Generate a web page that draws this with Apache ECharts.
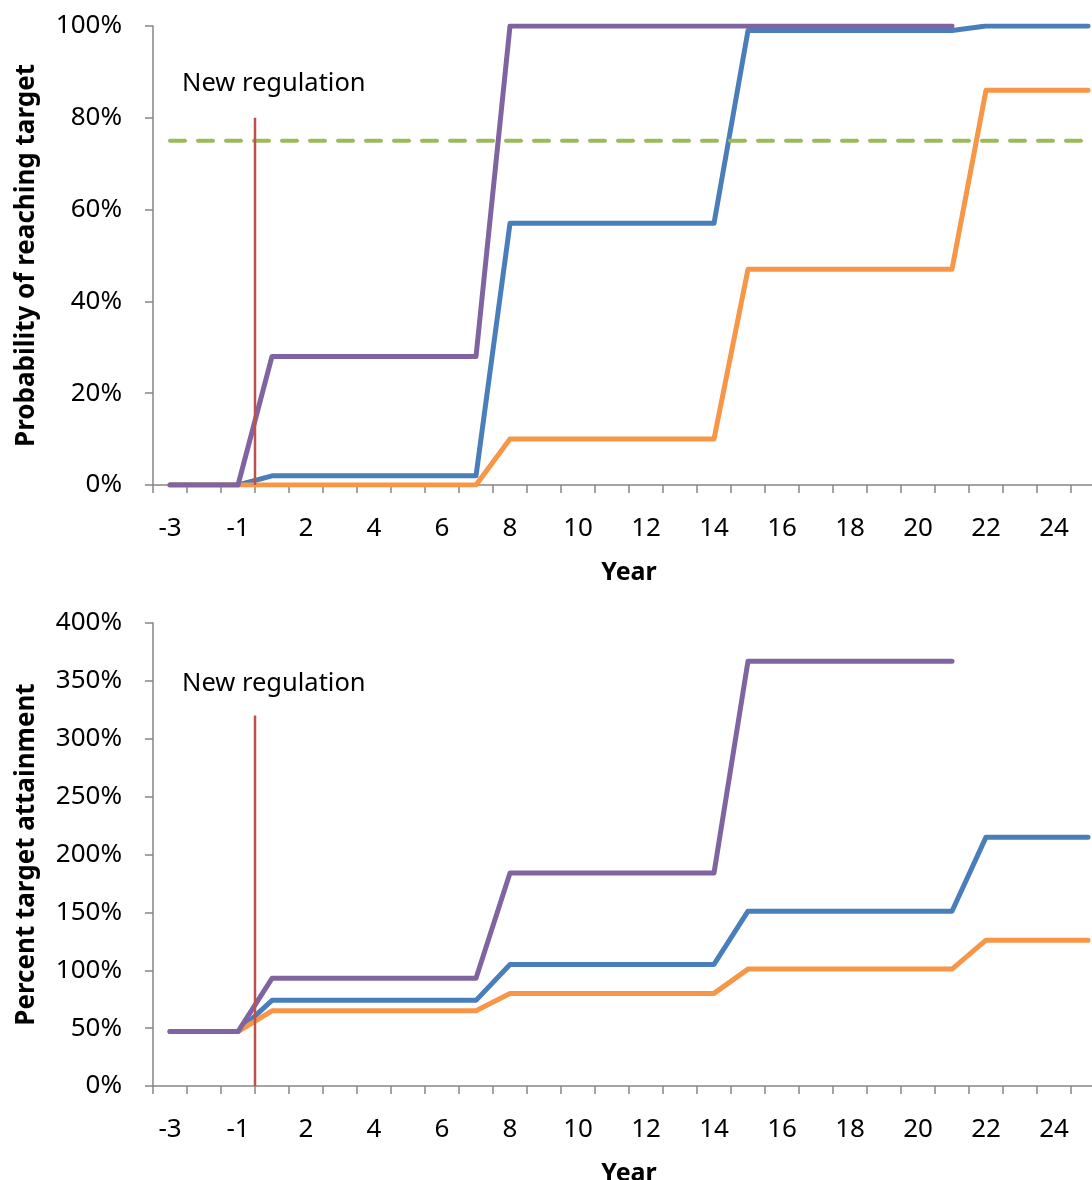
<!DOCTYPE html>
<html>
<head>
<meta charset="utf-8">
<title>Probability and percent target attainment</title>
<script src="https://cdn.jsdelivr.net/npm/echarts@6/dist/echarts.min.js"></script>
<style>
  html, body { margin: 0; padding: 0; background: #fff; }
  #main { width: 1092px; height: 1180px; }
</style>
</head>
<body>
<div id="main"></div>
<script>
// years on the x axis (no year 0)
var years = ['-3', '-2', '-1', '1', '2', '3', '4', '5', '6', '7', '8', '9', '10', '11',
  '12', '13', '14', '15', '16', '17', '18', '19', '20', '21', '22', '23', '24', '25'];

// top panel: probability of reaching target (%)
var probPurple = [0, 0, 0, 28, 28, 28, 28, 28, 28, 28, 100, 100, 100, 100, 100, 100, 100,
  100, 100, 100, 100, 100, 100, 100, null, null, null, null];
var probBlue = [0, 0, 0, 2, 2, 2, 2, 2, 2, 2, 57, 57, 57, 57, 57, 57, 57,
  99, 99, 99, 99, 99, 99, 99, 100, 100, 100, 100];
var probOrange = [0, 0, 0, 0, 0, 0, 0, 0, 0, 0, 10, 10, 10, 10, 10, 10, 10,
  47, 47, 47, 47, 47, 47, 47, 86, 86, 86, 86];
var probTarget = [75, 75, 75, 75, 75, 75, 75, 75, 75, 75, 75, 75, 75, 75, 75, 75, 75,
  75, 75, 75, 75, 75, 75, 75, 75, 75, 75, 75];

// bottom panel: percent target attainment (%)
var attPurple = [47, 47, 47, 93, 93, 93, 93, 93, 93, 93, 184, 184, 184, 184, 184, 184, 184,
  367, 367, 367, 367, 367, 367, 367, null, null, null, null];
var attBlue = [47, 47, 47, 74, 74, 74, 74, 74, 74, 74, 105, 105, 105, 105, 105, 105, 105,
  151, 151, 151, 151, 151, 151, 151, 215, 215, 215, 215];
var attOrange = [47, 47, 47, 65, 65, 65, 65, 65, 65, 65, 80, 80, 80, 80, 80, 80, 80,
  101, 101, 101, 101, 101, 101, 101, 126, 126, 126, 126];

// new regulation marker: category boundary (between -1 and 1) and line tops
var regulationAt = 3;
var regTopProb = 80;
var regTopAtt = 320;

var myChart = echarts.init(document.getElementById('main'));

var FONT = '"Noto Sans", "Open Sans", sans-serif';
var AXIS_COLOR = '#868686';

function catAxis(grid) {
    return {
        type: 'category',
        gridIndex: grid,
        data: years,
        boundaryGap: true,
        name: 'Year',
        nameLocation: 'middle',
        nameGap: 75,
        nameTextStyle: { fontFamily: FONT, fontSize: 25, fontWeight: 'bold', color: '#000' },
        axisLine: { lineStyle: { color: AXIS_COLOR, width: 1.5 } },
        axisTick: { show: true, interval: 0, length: 8, lineStyle: { color: AXIS_COLOR, width: 1.5 } },
        axisLabel: { interval: 1, margin: 31, fontFamily: FONT, fontSize: 26, color: '#000' },
        splitLine: { show: false }
    };
}

function hiddenAxis(grid) {
    return { type: 'value', gridIndex: grid, min: 0, max: years.length, show: false };
}

function valAxis(grid, max, interval, name) {
    return {
        type: 'value',
        gridIndex: grid,
        min: 0,
        max: max,
        interval: interval,
        name: name,
        nameLocation: 'middle',
        nameGap: 113,
        nameTextStyle: { fontFamily: FONT, fontSize: 26, fontWeight: 'bold', color: '#000' },
        axisLine: { show: true, lineStyle: { color: AXIS_COLOR, width: 1.5 } },
        axisTick: { show: true, length: 8, lineStyle: { color: AXIS_COLOR, width: 1.5 } },
        axisLabel: { margin: 31, fontFamily: FONT, fontSize: 26, color: '#000', formatter: '{value}%' },
        splitLine: { show: false }
    };
}

function lineSeries(data, color, axisIdx, extra) {
    var s = {
        type: 'line',
        xAxisIndex: axisIdx,
        yAxisIndex: axisIdx,
        data: data,
        symbol: 'none',
        smooth: false,
        connectNulls: false,
        animation: false,
        lineStyle: { color: color, width: 5, cap: 'round', join: 'round' }
    };
    if (extra) {
        for (var k in extra) s[k] = extra[k];
    }
    return s;
}

function regLine(axisIdx, top) {
    return {
        type: 'line',
        xAxisIndex: axisIdx,
        yAxisIndex: axisIdx - 2,
        data: [[regulationAt, 0], [regulationAt, top]],
        symbol: 'none',
        animation: false,
        z: 5,
        lineStyle: { color: '#C0504D', width: 2.5 }
    };
}

var option = {
    backgroundColor: '#fff',
    animation: false,
    grid: [
        { left: 153, width: 952, top: 26, height: 459, outerBoundsMode: 'none', containLabel: false },
        { left: 153, width: 952, top: 623, height: 463, outerBoundsMode: 'none', containLabel: false }
    ],
    xAxis: [catAxis(0), catAxis(1), hiddenAxis(0), hiddenAxis(1)],
    yAxis: [
        valAxis(0, 100, 20, 'Probability of reaching target'),
        valAxis(1, 400, 50, 'Percent target attainment')
    ],
    graphic: [
        { type: 'text', left: 182, top: 71, style: { text: 'New regulation', font: '25.5px ' + FONT, fill: '#000' } },
        { type: 'text', left: 182, top: 671, style: { text: 'New regulation', font: '25.5px ' + FONT, fill: '#000' } }
    ],
    series: [
        lineSeries(probBlue, '#4A7EBB', 0),
        lineSeries(probOrange, '#F79646', 0),
        lineSeries(probPurple, '#8064A2', 0),
        lineSeries(probTarget, '#9BBB59', 0, { z: 3 }),
        regLine(2, regTopProb),
        lineSeries(attBlue, '#4A7EBB', 1),
        lineSeries(attOrange, '#F79646', 1),
        lineSeries(attPurple, '#8064A2', 1),
        regLine(3, regTopAtt)
    ]
};
option.series[3].lineStyle.type = [15, 13];
option.series[3].lineStyle.width = 4;

myChart.setOption(option);
</script>
</body>
</html>
